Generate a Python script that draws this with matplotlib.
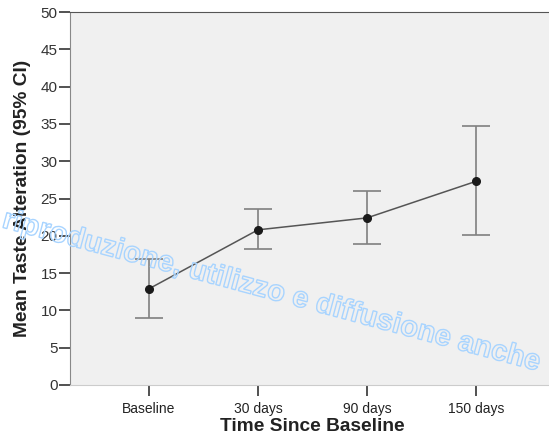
import matplotlib
matplotlib.use('Agg')
import matplotlib.pyplot as plt
import matplotlib.patheffects as pe

# Mean taste alteration with 95% CI per visit
visits = ['Baseline', '30 days', '90 days', '150 days']
means = [12.9, 20.8, 22.4, 27.3]
ci_low = [9.0, 18.2, 18.9, 20.1]
ci_high = [16.9, 23.6, 26.0, 34.7]

plt.rcParams['font.family'] = ['Liberation Sans', 'DejaVu Sans']

fig = plt.figure(figsize=(5.49, 4.38), dpi=100, facecolor='white')
W, H = 549.0, 438.0
ax = fig.add_axes([70/W, 53/H, (555-70)/W, (385-12)/H], facecolor='#f0f0f0')

x = list(range(len(visits)))
err = [[m - lo for m, lo in zip(means, ci_low)],
       [hi - m for m, hi in zip(means, ci_high)]]
ax.errorbar(x, means, yerr=err, fmt='none', ecolor='#808080',
            elinewidth=1.2, capsize=10, capthick=1.2, zorder=2)
ax.plot(x, means, color='#555555', lw=1.1, zorder=3)
ax.plot(x, means, 'o', color='#1a1a1a', ms=5.5, zorder=4)

ax.set_xlim(-0.725, 3.725)
ax.set_ylim(0, 50)
ax.set_yticks(range(0, 51, 5))
ax.set_xticks(x)
ax.set_xticklabels(visits)

ax.spines['right'].set_visible(False)
ax.spines['top'].set_color('#555555')
ax.spines['left'].set_color('#888888')
ax.spines['bottom'].set_color('#cccccc')
ax.tick_params(axis='y', direction='out', length=8, width=1.2, color='#333333',
               labelsize=11, labelcolor='#333333', pad=1)
ax.tick_params(axis='x', direction='out', length=8, width=1.2, color='#333333',
               labelsize=10, labelcolor='#222222', pad=4)

ax.set_ylabel('Mean Taste Alteration (95% CI)', fontsize=13.8, fontweight='bold',
              color='#222222', labelpad=7)
ax.set_xlabel('Time Since Baseline', fontsize=13.8, fontweight='bold',
              color='#222222', labelpad=2)

# watermark overlay
fig.text(1/W, 1 - 227/H, 'riproduzione, utilizzo e diffusione anche',
         fontsize=21, fontweight='bold', rotation=-15, rotation_mode='anchor',
         ha='left', va='baseline', color='#a8d4ff', zorder=10,
         path_effects=[pe.PathPatchEffect(edgecolor='#a8d4ff', facecolor='none', linewidth=1)])

fig.savefig('out.png', dpi=100)
